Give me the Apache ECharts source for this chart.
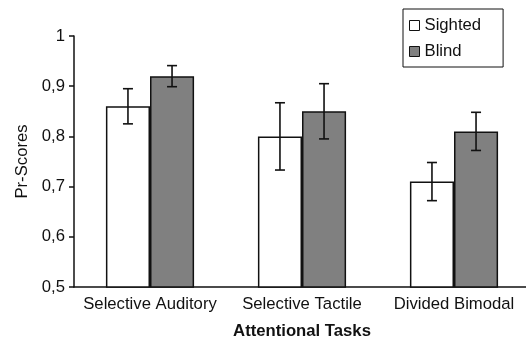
<!DOCTYPE html>
<html>
<head>
<meta charset="utf-8">
<script src="https://cdn.jsdelivr.net/npm/echarts@6/dist/echarts.min.js"></script>
<style>html,body{margin:0;padding:0;background:#fff;}#c{width:526px;height:341px;}</style>
</head>
<body>
<div id="c"></div>
<script>
const categories = ['Selective Auditory', 'Selective Tactile', 'Divided Bimodal'];
const sighted = [0.86, 0.80, 0.71];
const blind = [0.92, 0.85, 0.81];
const sightedErr = [0.035, 0.067, 0.038];
const blindErr = [0.021, 0.055, 0.038];
const yTicks = { min: 0.5, max: 1, interval: 0.1 };

const BAR_FRAC = 0.29;
const FONT = '"Liberation Sans", Arial, sans-serif';
const chart = echarts.init(document.getElementById('c'), null, { renderer: 'canvas' });

function errSeries(name, means, errs, side) {
  return {
    type: 'custom',
    name: name + ' err',
    data: means.map((m, i) => [i, m, errs[i]]),
    z: 10,
    renderItem: function (params, api) {
      const i = api.value(0), m = api.value(1), e = api.value(2);
      const band = api.size([1, 0])[0];
      const off = side * band * BAR_FRAC / 2;
      const top = api.coord([i, m + e]);
      const bot = api.coord([i, m - e]);
      const x = top[0] + off;
      const cap = 5;
      const st = { stroke: '#111', lineWidth: 1.6 };
      return {
        type: 'group',
        children: [
          { type: 'line', shape: { x1: x, y1: top[1], x2: x, y2: bot[1] }, style: st },
          { type: 'line', shape: { x1: x - cap, y1: top[1], x2: x + cap, y2: top[1] }, style: st },
          { type: 'line', shape: { x1: x - cap, y1: bot[1], x2: x + cap, y2: bot[1] }, style: st }
        ]
      };
    }
  };
}

chart.setOption({
  animation: false,
  backgroundColor: '#fff',
  grid: { left: 74, top: 36, bottom: 54, width: 456, containLabel: false, outerBoundsMode: 'none' },
  legend: {
    data: [
      { name: 'Sighted', itemStyle: { color: '#fff', borderColor: '#111', borderWidth: 1 } },
      { name: 'Blind', itemStyle: { color: '#808080', borderColor: '#111', borderWidth: 1 } }
    ],
    orient: 'vertical',
    left: 403, top: 9,
    itemWidth: 10, itemHeight: 10, itemGap: 9,
    icon: 'rect',
    padding: [8, 22, 7, 6],
    borderColor: '#111', borderWidth: 1,
    textStyle: { fontFamily: FONT, fontSize: 16.7, color: '#111', lineHeight: 16 }
  },
  xAxis: {
    type: 'category',
    data: categories,
    axisLine: { lineStyle: { color: '#111', width: 1.5 } },
    axisTick: { show: false },
    axisLabel: { fontFamily: FONT, fontSize: 16.7, color: '#111', margin: 9, interval: 0 },
    name: 'Attentional Tasks',
    nameLocation: 'middle',
    nameGap: 36,
    nameTextStyle: { fontFamily: FONT, fontSize: 16.7, fontWeight: 'bold', color: '#111' }
  },
  yAxis: {
    type: 'value',
    min: yTicks.min, max: yTicks.max, interval: yTicks.interval,
    axisLine: { show: true, lineStyle: { color: '#111', width: 1.5 } },
    axisTick: { show: true, length: 5, lineStyle: { color: '#111', width: 1.5 } },
    splitLine: { show: false },
    axisLabel: {
      fontFamily: FONT, fontSize: 16.7, color: '#111', margin: 9,
      formatter: v => String(+v.toFixed(1)).replace('.', ',')
    },
    name: 'Pr-Scores',
    nameLocation: 'middle',
    nameGap: 39,
    nameTextStyle: { fontFamily: FONT, fontSize: 16.7, color: '#111' }
  },
  series: [
    {
      name: 'Sighted', type: 'bar', data: sighted, barWidth: (BAR_FRAC * 100) + '%', barGap: '0%',
      itemStyle: { color: '#fff', borderColor: '#111', borderWidth: 1.5 }
    },
    {
      name: 'Blind', type: 'bar', data: blind, barWidth: (BAR_FRAC * 100) + '%', barGap: '0%',
      itemStyle: { color: '#808080', borderColor: '#111', borderWidth: 1.5 }
    },
    errSeries('Sighted', sighted, sightedErr, -1),
    errSeries('Blind', blind, blindErr, 1)
  ]
});
</script>
</body>
</html>
